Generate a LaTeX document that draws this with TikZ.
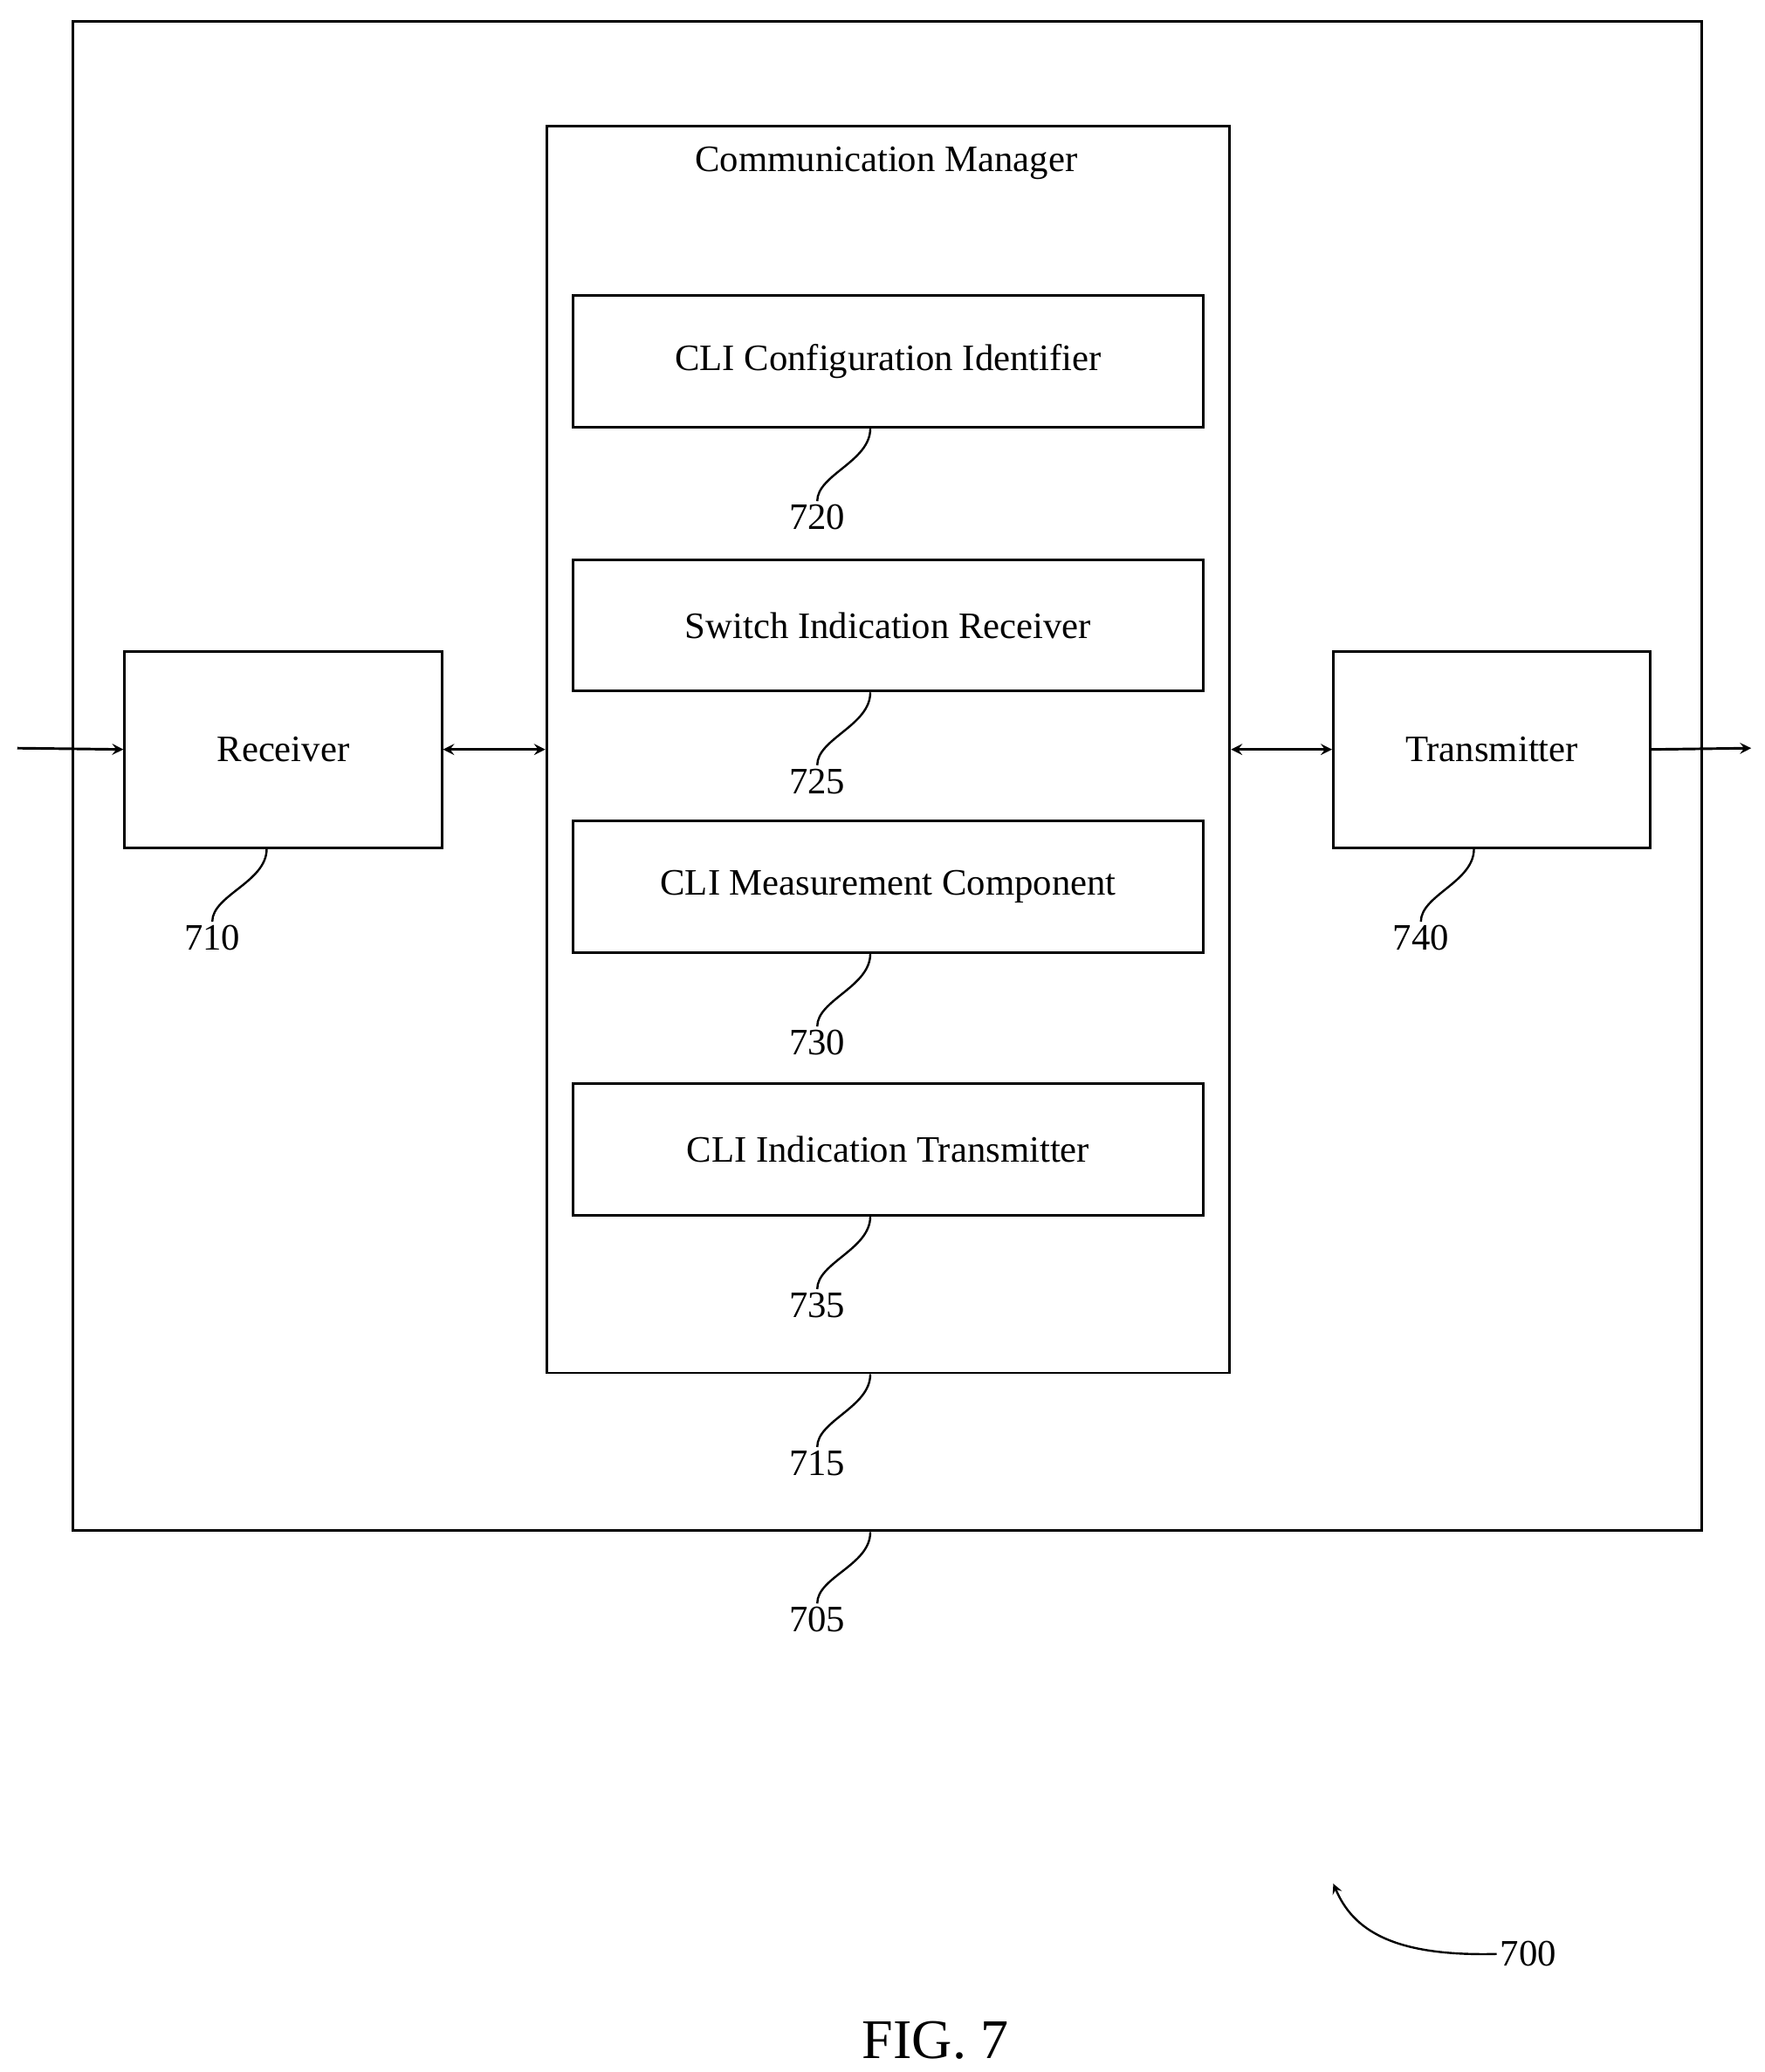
\documentclass[tikz,border=0pt]{standalone}
\usepackage{fontspec}
\setmainfont{Liberation Serif}
\usetikzlibrary{positioning}
\begin{document}
\begin{tikzpicture}[x=0.02cm,y=-0.02cm,line width=1.1pt,>=stealth,
    font=\fontsize{16}{19}\selectfont]
    \tikzstyle{block}=[draw,rectangle,anchor=north west,inner sep=0pt]
    \tikzstyle{inner block}=[block,minimum width=475*0.02cm,minimum height=99*0.02cm]
    \tikzstyle{side block}=[block,minimum width=239*0.02cm,minimum height=148*0.02cm]
    \tikzstyle{ref}=[inner sep=1pt]
    \tikzstyle{lead}=[line width=0.9pt]
    \useasboundingbox (0,0) rectangle (1330,1562);

    % Draw the outer device and the manager
    \node[block,minimum width=1228*0.02cm,minimum height=1138*0.02cm] (dev) at (54,15) {};
    \node[block,minimum width=515*0.02cm,minimum height=940*0.02cm] (cm) at (411,94) {};
    \node (cmt) at (668,123) {Communication Manager};

    % Draw the components inside the manager
    \foreach \name/\y/\txt in {720/222/CLI Configuration Identifier,
                               725/421/Switch Indication Receiver,
                               730/618/CLI Measurement Component,
                               735/816/CLI Indication Transmitter}
    {
        \node[inner block] (b\name) at (431,\y) {};
        \node at (b\name.center) {\txt};
        \node[ref] (l\name) at (616,\y+168) {\name};
        \draw[lead] (b\name.south -| 656,0) .. controls +(0,25) and +(0,-20) .. (l\name.north);
    }

    % Draw receiver and transmitter
    \node[side block] (rx) at (93,490) {};
    \node at (rx.center) {Receiver};
    \node[side block] (tx) at (1004,490) {};
    \node at (tx.center) {Transmitter};
    \coordinate (in) at (13,564);
    \coordinate (out) at (1320,564);
    \draw[->] (in) -- (rx.west);
    \draw[<->] (rx.east) -- (rx.east -| cm.west);
    \draw[<->] (tx.west -| cm.east) -- (tx.west);
    \draw[->] (tx.east) -- (out);

    % Reference numerals
    \node[ref] (l710) at (160,707) {710};
    \node[ref] (l740) at (1071,707) {740};
    \node[ref] (l715) at (616,1103) {715};
    \node[ref] (l705) at (616,1221) {705};
    \draw[lead] (rx.south -| 201,0) .. controls +(0,25) and +(0,-20) .. (l710.north);
    \draw[lead] (tx.south -| 1111,0) .. controls +(0,25) and +(0,-20) .. (l740.north);
    \draw[lead] (cm.south -| 656,0) .. controls +(0,25) and +(0,-20) .. (l715.north);
    \draw[lead] (dev.south -| 656,0) .. controls +(0,25) and +(0,-20) .. (l705.north);

    \node[ref] (l700) at (1152,1473) {700};
    \coordinate (a700) at (1005,1420);
    \draw[lead,->] (l700.west) .. controls (1050,1475) and (1020,1455) .. (a700);

    \node[font=\fontsize{24}{28}\selectfont] (fig) at (705,1538) {FIG. 7};
\end{tikzpicture}
\end{document}
